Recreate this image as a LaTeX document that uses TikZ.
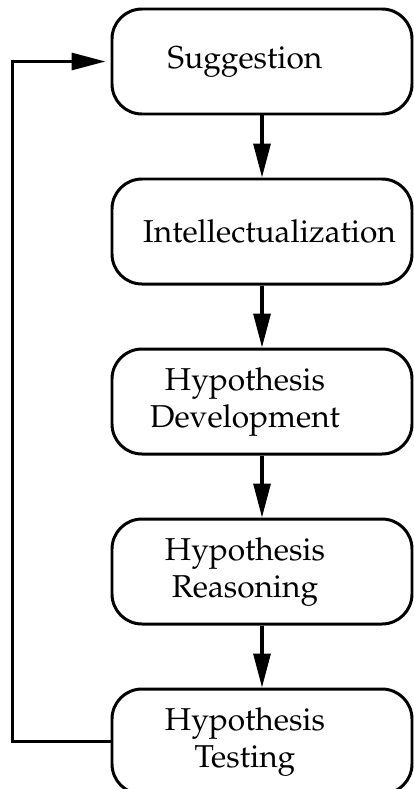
\documentclass[tikz,border=0pt]{standalone}
\usepackage[T1]{fontenc}
\usepackage{mathpazo}
\usetikzlibrary{arrows.meta}
\tikzstyle{stage} = [
    rectangle,
    rounded corners=0.6cm,
    minimum width=6cm,
    minimum height=2.1cm,
    line width=1.7pt,
    draw=black,
    font=\fontsize{18}{21}\selectfont
]
\tikzstyle{arrow} = [line width=1.8pt,-{Triangle[length=6.8mm,width=3.4mm]}]
\newcommand{\stagetext}[1]{\raisebox{-1.4mm}{\begin{tabular}{@{}c@{}}#1\end{tabular}}\hspace*{0.68cm}}

\begin{document}
\begin{tikzpicture}[node distance=3.4cm]
\useasboundingbox (0,0) rectangle (8.28,-15.78);
\node (sugg) [stage] at (5.24,-1.23) {\stagetext{Suggestion}};
\node (intel) [stage, below of=sugg] 
{\raisebox{-1.4mm}{Intellectualization}\hspace*{-0.3cm}};
\node (devel) [stage, below of=intel] 
{\stagetext{Hypothesis\\Development}};
\node (reason) [stage, below of=devel] 
{\stagetext{Hypothesis\\Reasoning}};
\node (test) [stage, below of=reason] 
{\stagetext{Hypothesis\\Testing}};
\coordinate (back) at ([xshift=-1.96cm]test.west);

\draw [arrow] (sugg) -- (intel);
\draw [arrow] (intel) -- (devel);
\draw [arrow] (devel) -- (reason);
\draw [arrow] (reason) -- (test);
\draw [arrow, shorten >=1mm] (test.west) -- (back) |- (sugg.west);

\end{tikzpicture}
\end{document}
